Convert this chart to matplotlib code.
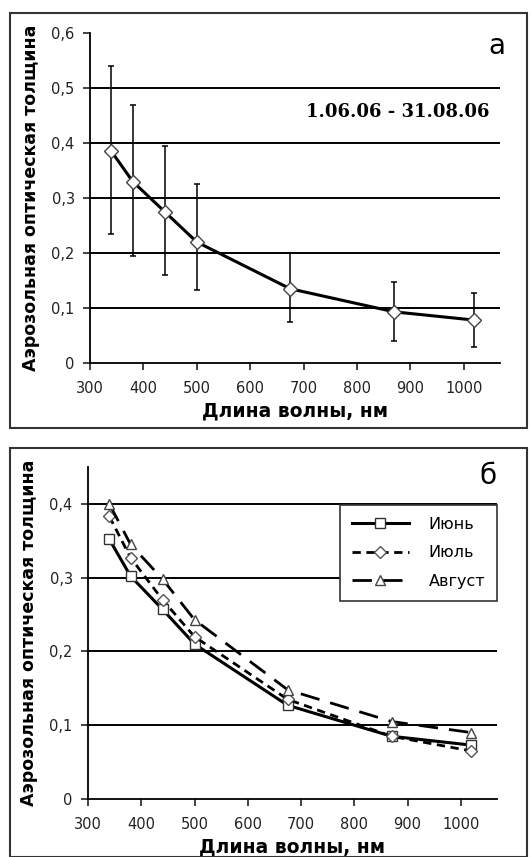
import numpy as np
import matplotlib
matplotlib.use('Agg')
import matplotlib.pyplot as plt
from matplotlib.patches import Rectangle
from matplotlib.ticker import FuncFormatter

plt.rcParams['font.family'] = ['DejaVu Sans']

# wavelengths, nm
wl = [340, 380, 440, 500, 675, 870, 1020]

# panel a: summer mean AOD and spread
aod_mean = [0.385, 0.33, 0.275, 0.22, 0.135, 0.093, 0.078]
aod_low = [0.235, 0.195, 0.16, 0.133, 0.075, 0.04, 0.03]
aod_high = [0.54, 0.47, 0.395, 0.325, 0.2, 0.148, 0.127]

# panel b: monthly means
june = [0.352, 0.302, 0.257, 0.21, 0.127, 0.085, 0.073]
july = [0.383, 0.327, 0.27, 0.22, 0.135, 0.085, 0.065]
august = [0.40, 0.345, 0.298, 0.243, 0.148, 0.105, 0.09]

period = '1.06.06 - 31.08.06'
xlabel = 'Длина волны, нм'
ylabel = 'Аэрозольная оптическая толщина'

W, H = 532, 857
fig = plt.figure(figsize=(W / 100, H / 100), dpi=100)

def px(l, t, r, b):
    return [l / W, 1 - b / H, (r - l) / W, (b - t) / H]

# panel frames
fig.patches.append(Rectangle((10 / W, 1 - 428 / H), 517 / W, 415 / H, transform=fig.transFigure,
                             fill=False, lw=1.5, ec='#333333'))
fig.patches.append(Rectangle((10 / W, 1 - 857 / H), 517 / W, 409 / H, transform=fig.transFigure,
                             fill=False, lw=1.5, ec='#333333'))

comma = FuncFormatter(lambda v, p: '0' if abs(v) < 1e-9 else ('%.1f' % v).replace('.', ','))


def style(ax, ymax, yticks):
    ax.set_xlim(300, 1068)
    ax.set_ylim(0, ymax)
    ax.set_xticks(np.arange(300, 1001, 100))
    ax.set_yticks(yticks)
    ax.yaxis.set_major_formatter(comma)
    for s in ['top', 'right']:
        ax.spines[s].set_visible(False)
    for s in ['left', 'bottom']:
        ax.spines[s].set_linewidth(1.3)
    ax.tick_params(direction='out', length=5, width=1.2, labelsize=10.5, colors='#222222')
    ax.tick_params(axis='x', pad=8)
    ax.tick_params(axis='y', pad=6)
    for y in yticks[1:]:
        if y < ymax - 1e-9:
            ax.axhline(y, color='black', lw=1.4, zorder=0)
    ax.set_xlabel(xlabel, fontsize=13.5, fontweight='bold', labelpad=4)
    ax.set_ylabel(ylabel, fontsize=12.5, fontweight='bold', labelpad=8)


# panel a
ax1 = fig.add_axes(px(90, 33, 500, 363))
style(ax1, 0.6, np.arange(0, 0.61, 0.1))
yerr = [np.array(aod_mean) - np.array(aod_low), np.array(aod_high) - np.array(aod_mean)]
ax1.errorbar(wl, aod_mean, yerr=yerr, fmt='none', ecolor='black', elinewidth=1.1, capsize=2.5, capthick=1.1)
ax1.plot(wl, aod_mean, color='black', lw=2.2, marker='D', ms=7, mfc='white', mec='#444444', mew=1)
ax1.text(0.993, 0.96, 'а', transform=ax1.transAxes, fontsize=20, ha='center', va='center')
ax1.text(0.75, 0.76, period, transform=ax1.transAxes, fontsize=13, fontweight='bold',
         family='DejaVu Serif', ha='center', va='center')

# panel b
ax2 = fig.add_axes(px(88, 467, 497, 799))
style(ax2, 0.45, np.arange(0, 0.41, 0.1))
ax2.plot(wl, june, color='black', lw=2.2, ls='-', marker='s', ms=7, mfc='white', mec='#333333',
         mew=1, label='Июнь')
ax2.plot(wl, july, color='black', lw=2, ls=(0, (3, 2)), marker='D', ms=6, mfc='white', mec='#555555',
         mew=1, label='Июль')
ax2.plot(wl, august, color='black', lw=2, ls=(0, (7, 4)), marker='^', ms=7, mfc='white', mec='#444444',
         mew=1, label='Август')
ax2.text(0.978, 0.973, 'б', transform=ax2.transAxes, fontsize=20, ha='center', va='center')
leg = ax2.legend(loc='upper right', bbox_to_anchor=(1.0, 0.886), fontsize=11.5, frameon=True,
                 fancybox=False, edgecolor='#333333', framealpha=1, handlelength=3.6,
                 labelspacing=0.85, borderpad=0.75, handletextpad=1.2, borderaxespad=0)
leg.get_frame().set_linewidth(1.2)

fig.savefig('out.png', dpi=100)
